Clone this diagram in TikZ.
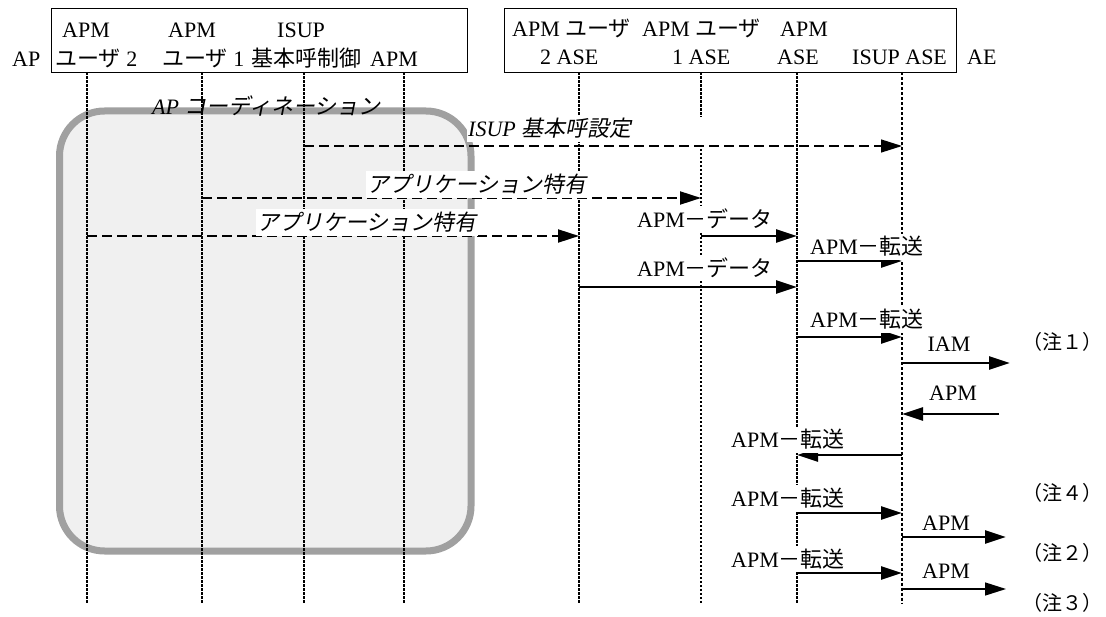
\documentclass[tikz,border=0pt]{standalone}
\usepackage{fontspec}
\setmainfont{Liberation Serif}
\newfontfamily\jp{Noto Sans CJK JP}
\newfontfamily\jpit[FakeSlant=0.2]{Noto Sans CJK JP}
\usetikzlibrary{arrows.meta}
\newcommand\J[1]{{\jp #1}}
\newcommand\JI[1]{{\jpit #1}}
\definecolor{ringgray}{HTML}{A0A0A0}
\definecolor{ringfill}{HTML}{F0F0F0}
\tikzset{
  lbl/.style={inner sep=0pt, anchor=base west},
  clbl/.style={inner sep=0pt, anchor=base},
  notelbl/.style={inner sep=0pt, anchor=base west, font=\fontsize{20}{24}\selectfont},
  wlbl/.style={anchor=base west, fill=white, inner xsep=1pt, inner ysep=3pt},
  framebox/.style={draw=black, line width=1pt},
  lifeline/.style={line width=2.2pt, dash pattern=on 2.2pt off 1.8pt},
  thinlife/.style={line width=1.1pt, dash pattern=on 3pt off 2pt},
  tip/.style={-{Triangle[length=21pt,width=13pt]}},
  msg/.style={tip, line width=2.6pt},
  thinmsg/.style={tip, line width=1.4pt},
  dmsg/.style={tip, line width=2pt, dash pattern=on 10pt off 5pt},
  thindmsg/.style={tip, line width=1.3pt, dash pattern=on 10pt off 5pt},
}
\begin{document}
\begin{tikzpicture}[x=1pt,y=-1pt,font=\fontsize{22}{26}\selectfont]
\useasboundingbox (0,0) rectangle (1106,617);

% AP coordination region
\draw[draw=ringgray, fill=ringfill, line width=7pt, rounded corners=45pt]
  (59.5,111) rectangle (471,551);

% header frames
\node[framebox, minimum width=416pt, minimum height=64pt, anchor=north west, inner sep=0pt] (apbox) at (51,8.5) {};
\node[framebox, minimum width=452pt, minimum height=64pt, anchor=north west, inner sep=0pt] (aebox) at (504,8.5) {};

% header texts
\node[lbl] (h1a) at (62,38) {APM};
\node[lbl] (h2a) at (168,38) {APM};
\node[lbl] (h3a) at (277,38) {ISUP};
\node[lbl] (apl) at (12,67) {AP};
\node[lbl] (h1b) at (55,67) {\J{ユーザ} 2};
\node[lbl] (h2b) at (162,67) {\J{ユーザ} 1};
\node[lbl] (h3b) at (251,67) {\J{基本呼制御}};
\node[lbl] (h4b) at (370,67) {APM};

\node[lbl] (r1a) at (512,37) {APM \J{ユーザ}};
\node[lbl] (r2a) at (642,37) {APM \J{ユーザ}};
\node[lbl] (r3a) at (780,37) {APM};
\node[lbl] (r1b) at (540,65) {2 ASE};
\node[lbl] (r2b) at (672,65) {1 ASE};
\node[lbl] (r3b) at (777,65) {ASE};
\node[lbl] (r4b) at (852,65) {ISUP ASE};
\node[lbl] (ael) at (967,65) {AE};

% lifeline coordinates
\foreach \n/\x in {1/87,2/202,3/304,4/404,5/579,6/701,7/797}{
  \coordinate (L\n t) at (\x,72.5);
  \coordinate (L\n b) at (\x,603);
}
\foreach \n in {1,2,3,4,5,7}{
  \draw[lifeline] (L\n t) -- (L\n b);
}
\coordinate (L6m) at (701,117);
\coordinate (L6n) at (701,145);
\draw[lifeline] (L6t) -- (L6m);
\draw[lifeline] (L6n) -- (L6b);
\coordinate (L8t) at (902,72.5);
\coordinate (L8b) at (902,603);
\draw[thinlife] (L8t) -- (L8b);
\coordinate (ext) at (1006,0);
\coordinate (extb) at (999,0);
\coordinate (exti) at (1010,0);

% dashed application messages
\draw[thindmsg] (L3t |- 0,146) -- (L8t |- 0,146);
\draw[dmsg] (L2t |- 0,198) -- (L6t |- 0,198);
\draw[dmsg] (L1t |- 0,236) -- (L5t |- 0,236);

% labels of dashed messages
\node[lbl] (coord) at (152,115) {\textit{AP} \JI{コーディネーション}};
\node[wlbl] (isup) at (467,137) {\textit{ISUP} \JI{基本呼設定}};
\node[wlbl] (app1) at (366,193) {\JI{アプリケーション特有}};
\node[wlbl] (app2) at (256,231) {\JI{アプリケーション特有}};

% solid messages
\draw[msg] (L6t |- 0,236) -- (L7t |- 0,236);
\draw[msg] (L7t |- 0,261) -- (L8t |- 0,261);
\draw[msg] (L5t |- 0,287) -- (L7t |- 0,287);
\draw[msg] (L7t |- 0,337) -- (L8t |- 0,337);
\draw[msg] (L8t |- 0,363) -- (exti |- 0,363);
\draw[msg] (extb |- 0,414) -- (L8t |- 0,414);
\draw[msg] (L8t |- 0,455) -- (L7t |- 0,455);
\draw[msg] (L7t |- 0,513) -- (L8t |- 0,513);
\draw[msg] (L8t |- 0,537) -- (ext |- 0,537);
\draw[msg] (L7t |- 0,573) -- (L8t |- 0,573);
\draw[thinmsg] (L8t |- 0,589) -- (ext |- 0,589);

% message labels
\node[wlbl] (d1) at (636,228) {APM\J{－データ}};
\node[wlbl] (t1) at (809,255) {APM\J{－転送}};
\node[wlbl] (d2) at (636,277) {APM\J{－データ}};
\node[wlbl] (t2) at (809,328) {APM\J{－転送}};
\node[clbl] (iam) at (949,352) {IAM};
\node[clbl] (apmb) at (953,401) {APM};
\node[wlbl] (t3) at (730,448) {APM\J{－転送}};
\node[wlbl] (t4) at (730,506) {APM\J{－転送}};
\node[clbl] (apm2) at (946,530) {APM};
\node[wlbl] (t5) at (730,567) {APM\J{－転送}};
\node[clbl] (apm3) at (946,578) {APM};

% notes
\node[notelbl] (n1) at (1022,350) {\J{（注１）}};
\node[notelbl] (n4) at (1022,500) {\J{（注４）}};
\node[notelbl] (n2) at (1022,560) {\J{（注２）}};
\node[notelbl] (n3) at (1022,610) {\J{（注３）}};
\end{tikzpicture}
\end{document}
